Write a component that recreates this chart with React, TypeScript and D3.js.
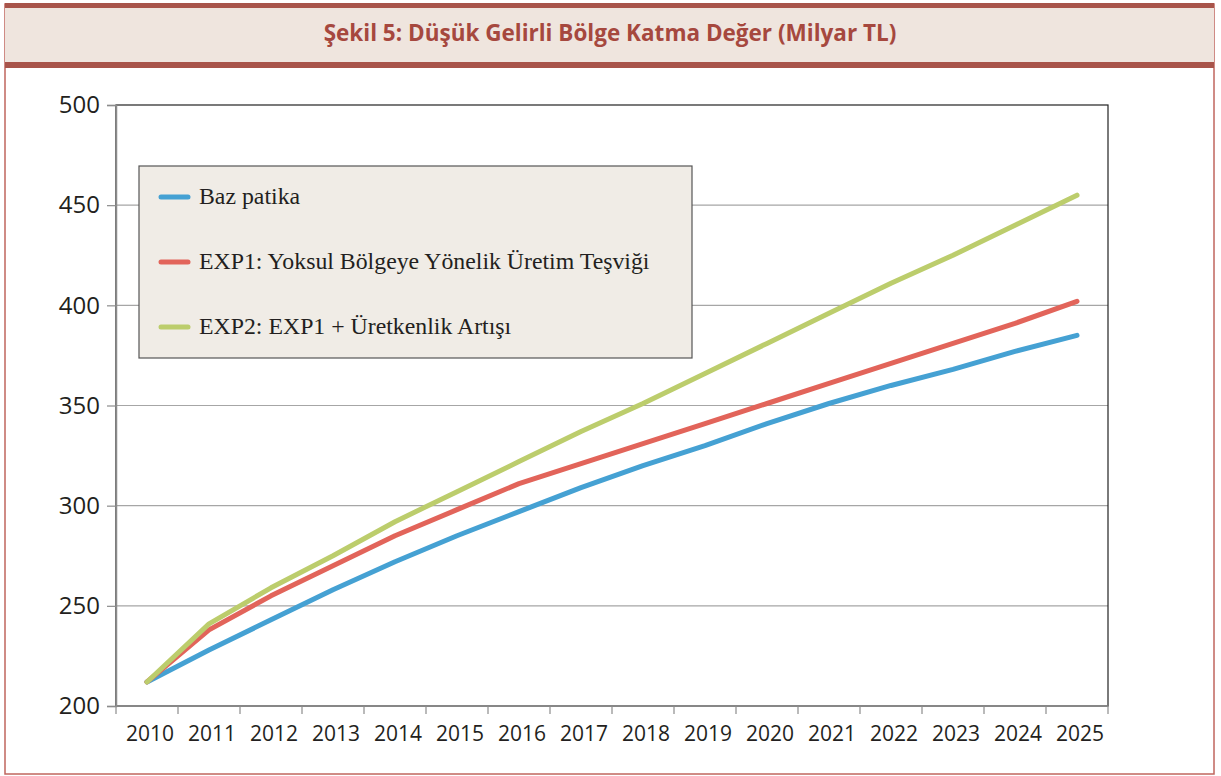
import React, { useEffect, useRef } from "react";
import * as d3 from "d3";

const years = ["2010", "2011", "2012", "2013", "2014", "2015", "2016", "2017", "2018", "2019", "2020", "2021", "2022", "2023", "2024", "2025"];
const bazPatika = [212, 228, 243, 258, 272, 285, 297, 309, 320, 330, 341, 351, 360, 368, 377, 385];
const exp1 = [212, 238, 255, 270, 285, 298, 311, 321, 331, 341, 351, 361, 371, 381, 391, 402];
const exp2 = [212, 241, 259, 275, 292, 307, 322, 337, 351, 366, 381, 396, 411, 425, 440, 455];
const yTicks = [200, 250, 300, 350, 400, 450, 500];
const seriesNames = ["Baz patika", "EXP1: Yoksul Bölgeye Yönelik Üretim Teşviği", "EXP2: EXP1 + Üretkenlik Artışı"];
const seriesColors = ["#45a1d3", "#e2645a", "#bccd6c"];
const title = "Şekil 5: Düşük Gelirli Bölge Katma Değer (Milyar TL)";

function Chart() {
  const svgRef = useRef<SVGSVGElement>(null);
  useEffect(() => {
    const W = 1221, H = 776;
    const svg = d3.select(svgRef.current);
    svg.selectAll("*").remove();
    svg.attr("width", W).attr("height", H);

    // frame + title banner
    svg.append("rect").attr("x", 5).attr("y", 4).attr("width", 1209).attr("height", 770)
      .attr("fill", "#fff").attr("stroke", "#c0665e").attr("stroke-width", 1.5);
    svg.append("rect").attr("x", 5).attr("y", 7).attr("width", 1209).attr("height", 56).attr("fill", "#efe5de");
    svg.append("rect").attr("x", 5).attr("y", 3).attr("width", 1209).attr("height", 5).attr("fill", "#a8544a");
    svg.append("rect").attr("x", 5).attr("y", 62).attr("width", 1209).attr("height", 6).attr("fill", "#a8544a");
    svg.append("text").attr("x", 610).attr("y", 41).attr("text-anchor", "middle")
      .style("font-family", "'Open Sans', sans-serif").style("font-weight", "bold")
      .style("font-size", "22.5px").attr("fill", "#a6483e").text(title);

    const left = 116, right = 1108, top = 105, bottom = 706;
    const x = d3.scaleBand().domain(years).range([left, right]);
    const y = d3.scaleLinear().domain([200, 500]).range([bottom, top]);

    // grid
    svg.append("g").selectAll("line").data(yTicks.slice(1, -1)).enter().append("line")
      .attr("x1", left).attr("x2", right).attr("y1", d => y(d)).attr("y2", d => y(d))
      .attr("stroke", "#a6a6a6").attr("stroke-width", 1.2);
    // plot border
    svg.append("rect").attr("x", left).attr("y", top).attr("width", right - left).attr("height", bottom - top)
      .attr("fill", "none").attr("stroke", "#222").attr("stroke-width", 1.2);

    // y axis
    const yAxis = svg.append("g").attr("transform", `translate(${left},0)`)
      .call(d3.axisLeft(y).tickValues(yTicks).tickSize(9).tickPadding(7));
    yAxis.select(".domain").attr("stroke", "#8c8c8c").attr("stroke-width", 1.5);
    yAxis.selectAll(".tick line").attr("stroke", "#8c8c8c").attr("stroke-width", 1.2);
    yAxis.selectAll(".tick text").style("font-family", "'Open Sans', sans-serif")
      .style("font-size", "24px").attr("fill", "#231f20");

    // x axis with ticks at band boundaries
    const xg = svg.append("g").attr("transform", `translate(0,${bottom})`);
    xg.append("line").attr("x1", left).attr("x2", right).attr("stroke", "#8c8c8c").attr("stroke-width", 1.5);
    xg.selectAll(".tk").data([...years, "end"]).enter().append("line")
      .attr("x1", (d, i) => left + i * x.bandwidth()).attr("x2", (d, i) => left + i * x.bandwidth())
      .attr("y1", 0).attr("y2", 8).attr("stroke", "#8c8c8c").attr("stroke-width", 1.2);
    xg.selectAll("text").data(years).enter().append("text")
      .attr("x", d => (x(d) as number) + x.bandwidth() / 2 + 3).attr("y", 35)
      .attr("text-anchor", "middle").style("font-family", "'Open Sans', sans-serif")
      .style("font-size", "21px").attr("fill", "#231f20").text(d => d);

    // lines
    const line = d3.line<number>().x((d, i) => (x(years[i]) as number) + x.bandwidth() / 2).y(d => y(d));
    [bazPatika, exp1, exp2].forEach((s, i) => {
      svg.append("path").attr("d", line(s)).attr("fill", "none").attr("stroke", seriesColors[i])
        .attr("stroke-width", 5).attr("stroke-linecap", "round").attr("stroke-linejoin", "round");
    });

    // legend
    const lg = svg.append("g");
    lg.append("rect").attr("x", 139).attr("y", 166).attr("width", 553).attr("height", 192)
      .attr("fill", "#f0ece6").attr("stroke", "#555").attr("stroke-width", 1.2);
    seriesNames.forEach((n, i) => {
      const yy = 197 + i * 65;
      lg.append("line").attr("x1", 161).attr("x2", 188).attr("y1", yy).attr("y2", yy)
        .attr("stroke", seriesColors[i]).attr("stroke-width", 5).attr("stroke-linecap", "round");
      lg.append("text").attr("x", 199).attr("y", yy + 7).style("font-family", "'Liberation Serif', 'Times New Roman', serif")
        .style("font-size", "23.8px").attr("fill", "#231f20").text(n);
    });
  }, []);
  return <svg ref={svgRef} style={{ position: "absolute", left: 0, top: 0 }}></svg>;
}

export default function App() {
  return <Chart />;
}
